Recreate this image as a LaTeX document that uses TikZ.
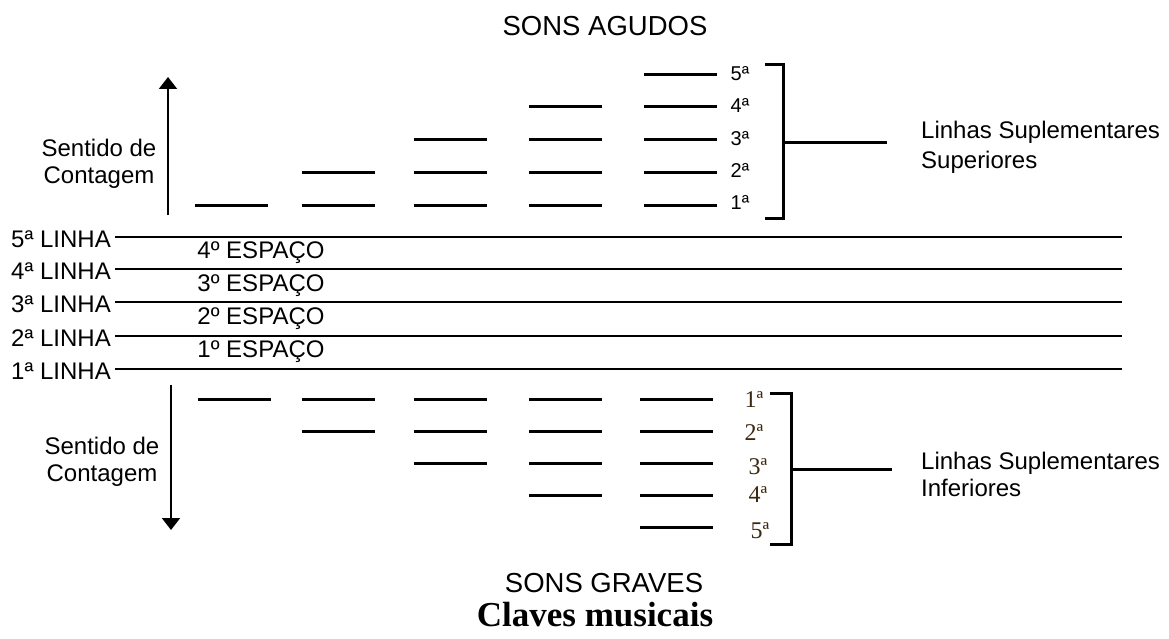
\documentclass[tikz,border=0pt]{standalone}
\usepackage{fontspec}
\setmainfont{Liberation Sans}
\newfontfamily\timesfam{Liberation Serif}
\usepackage{xcolor}
\usepackage{tikz}
\usetikzlibrary{arrows.meta, positioning}
\definecolor{numbrown}{RGB}{60,40,15}

\begin{document}
\begin{tikzpicture}[x=1pt, y=-1pt,
    lbl/.style={font=\fontsize{24}{28}\selectfont, inner sep=0pt},
    sml/.style={font=\fontsize{20}{24}\selectfont, inner sep=0pt},
    ttl/.style={font=\fontsize{27.5}{30}\selectfont, inner sep=0pt},
    lowlbl/.style={font=\timesfam\fontsize{24}{26}\selectfont, text=numbrown, inner sep=0pt},
    staff/.style={line width=2.5pt},
    ledger/.style={line width=3pt},
    brk/.style={line width=3pt},
    seta/.style={line width=2pt, -{Triangle[width=18pt,length=12pt]}}]

  \useasboundingbox (0,0) rectangle (1169,639);

  % titulos
  \node[ttl] (agudos) at (605,26) {SONS AGUDOS};
  \node[ttl] (graves) at (604,583) {SONS GRAVES};
  \node[font=\timesfam\bfseries\fontsize{35}{40}\selectfont, inner sep=0pt]
    (titulo) at (595,615) {Claves musicais};

  % pentagrama
  \foreach \n/\y in {5/237, 4/269, 3/302, 2/336, 1/369} {
    \node[lbl, anchor=east] (linha\n) at (111,\y+2) {{\n}ª LINHA};
    \coordinate (ini\n) at (115,\y);
    \coordinate (fim\n) at (1122,\y);
    \draw[staff] (ini\n) -- (fim\n);
  }
  \foreach \n/\y in {4/253, 3/286, 2/319, 1/352}
    \node[lbl] (espaco\n) at (261,\y) {{\n}º ESPAÇO};

  % linhas suplementares superiores
  \foreach \c/\x in {1/195, 2/302, 3/414, 4/529, 5/644}
    \foreach \k in {1,...,\c}
      \draw[ledger] (\x,{205-32.7*(\k-1)}) -- ++(73,0);
  \foreach \k/\y in {1/203, 2/171, 3/139, 4/106, 5/74}
    \node[sml] (sup\k) at (740,\y) {{\k}ª};

  % linhas suplementares inferiores
  \foreach \c/\x in {1/198, 2/302, 3/414, 4/529, 5/640}
    \foreach \k in {1,...,\c}
      \draw[ledger] (\x,{399+32*(\k-1)}) -- ++(73,0);
  \foreach \k/\x/\y in {1/754/400, 2/754/433, 3/758/467, 4/758/495, 5/760/531}
    \node[lowlbl] (inf\k) at (\x,\y) {{\k}ª};

  % chaves
  \coordinate (supTop) at (765,65);
  \coordinate (supBot) at (765,218);
  \coordinate (supMid) at (783,143);
  \coordinate (supEnd) at (887,143);
  \draw[brk] (supTop) -- ++(18,0) |- (supBot);
  \draw[brk] (supMid) -- (supEnd);
  \node[lbl, anchor=base west] (supTxtA) at (921,139) {Linhas Suplementares};
  \node[lbl, anchor=base west] (supTxtB) at ([yshift=-29pt]supTxtA.base west) {Superiores};

  \coordinate (infTop) at (770,393);
  \coordinate (infBot) at (770,544);
  \coordinate (infMid) at (791,469);
  \coordinate (infEnd) at (892,469);
  \draw[brk] (infTop) -- ++(21,0) |- (infBot);
  \draw[brk] (infMid) -- (infEnd);
  \node[lbl, anchor=base west] (infTxtA) at (921,469) {Linhas Suplementares};
  \node[lbl, anchor=base west] (infTxtB) at ([yshift=-27pt]infTxtA.base west) {Inferiores};

  % sentido de contagem
  \coordinate (sobeIni) at (168,215);
  \coordinate (sobeFim) at (168,77);
  \draw[seta] (sobeIni) -- (sobeFim);
  \node[lbl, anchor=base] (sentA) at (99,157) {Sentido de};
  \node[lbl, anchor=base] (contA) at ([yshift=-27pt]sentA.base) {Contagem};

  \coordinate (desceIni) at (171,385);
  \coordinate (desceFim) at (171,530);
  \draw[seta] (desceIni) -- (desceFim);
  \node[lbl, anchor=base] (sentB) at (102,454) {Sentido de};
  \node[lbl, anchor=base] (contB) at ([yshift=-27pt]sentB.base) {Contagem};
\end{tikzpicture}
\end{document}
